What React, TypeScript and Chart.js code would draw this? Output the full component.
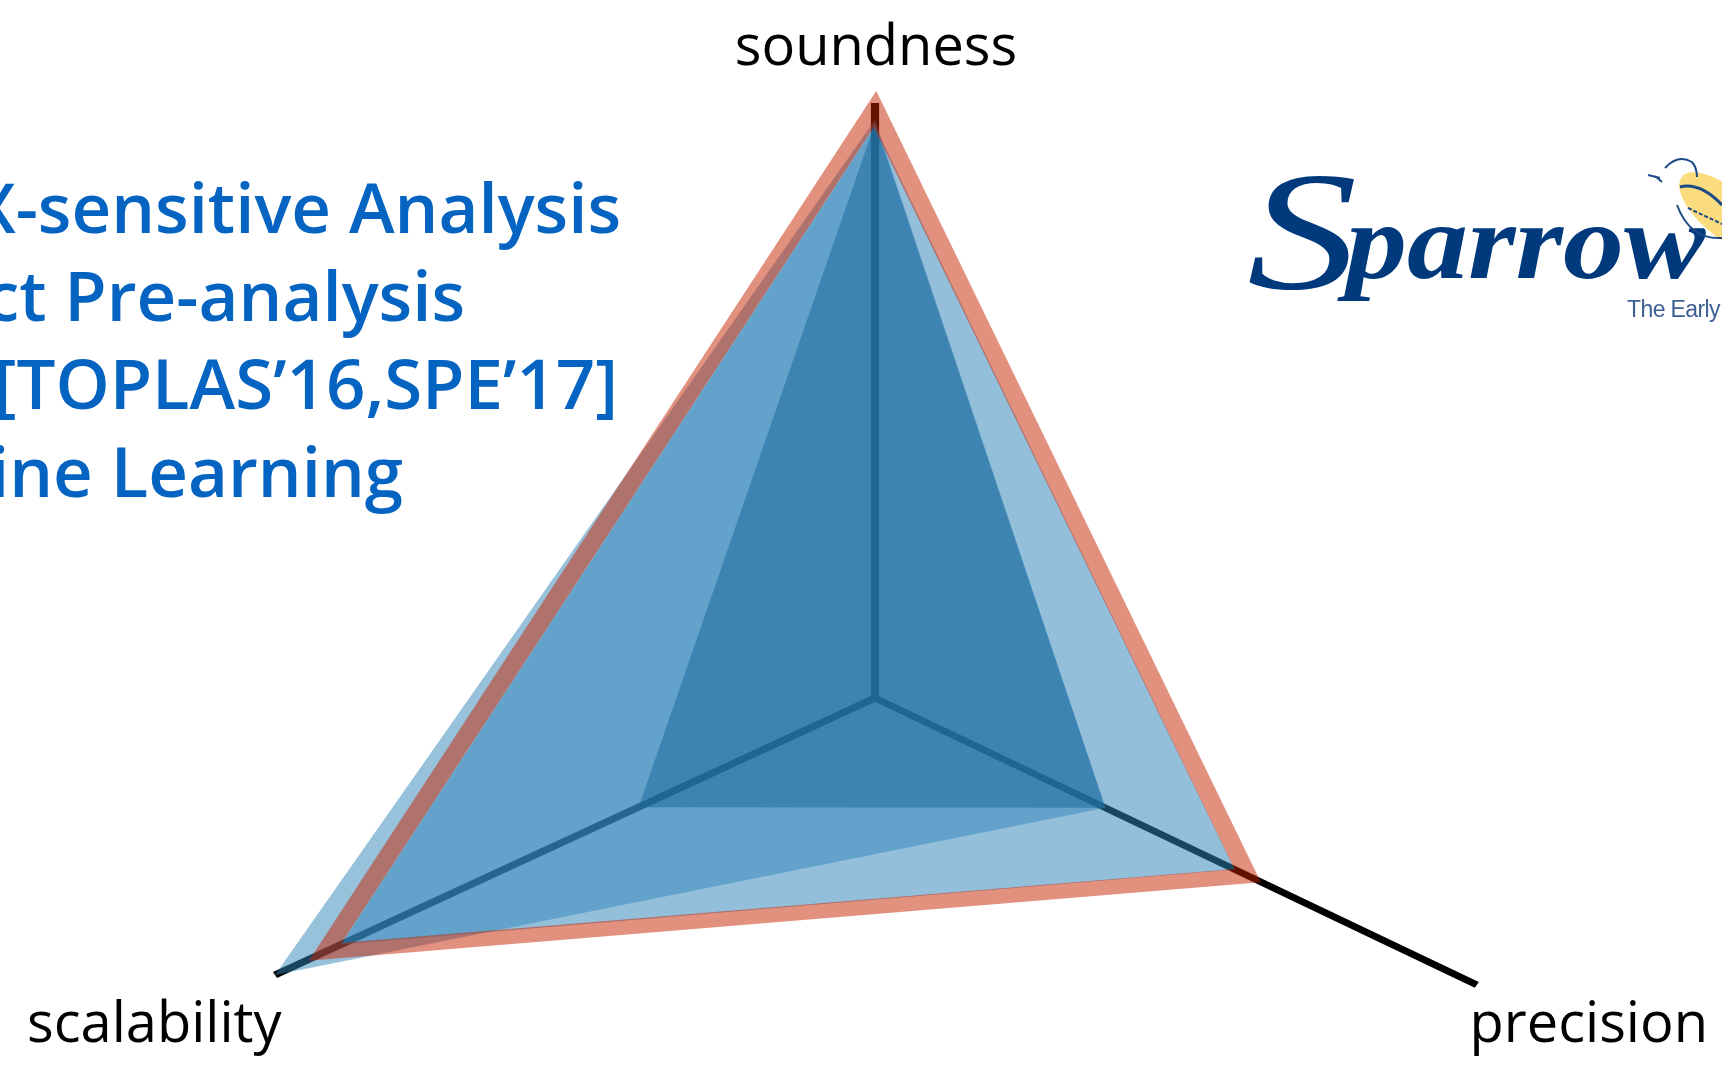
import React, { useEffect, useRef } from "react";
import { Chart, registerables } from "chart.js";

Chart.register(...registerables);

// Axis order follows the radar's clockwise order, starting at the top.
const axisLabels = ["soundness", "precision", "scalability"];

const redOutline = [104.6, 62.1, 91.6];
const blueWide = [101.6, 60, 89];
const blueLong = [102.7, 38.4, 100];
const blueCore = [102.1, 38.4, 39.4];

const axisSoundness = [105.7, 0, 0];
const axisPrecision = [0, 100.3, 0];
const axisScalability = [0, 0, 100];

const textLines = [
  "X-sensitive Analysis",
  "Compact Pre-analysis",
  "Sound [TOPLAS’16,SPE’17]",
  "Machine Learning",
];

const axisDataset = (data: number[]) => ({
  data,
  borderColor: "#000",
  borderWidth: 7,
  borderJoinStyle: "bevel",
  fill: false,
  pointRadius: 0,
  clip: false,
  order: 10,
});

const areaDataset = (data: number[], paint: string, order: number) => ({
  data,
  backgroundColor: paint,
  borderWidth: 0,
  borderColor: "transparent",
  fill: "origin",
  pointRadius: 0,
  clip: false,
  order,
});

const frame = {
  id: "frame",
  beforeDatasetsDraw(chart: any) {
    const r = chart.scales.r;
    const unit = r.getDistanceFromCenterForValue(100);
    const ctx = chart.ctx;
    ctx.save();
    ctx.translate(875, 698);
    ctx.transform(600 / (0.866 * unit), 4.5 / (0.866 * unit), 0, 563 / unit, 0, 0);
    ctx.translate(-r.xCenter, -r.yCenter);
  },
  afterDatasetsDraw(chart: any) {
    chart.ctx.restore();
  },
  afterDraw(chart: any) {
    const ctx = chart.ctx;
    const spots = [
      { x: 876, y: 65, align: "center" },
      { x: 1708, y: 1042, align: "right" },
      { x: 27, y: 1042, align: "left" },
    ];
    ctx.save();
    ctx.fillStyle = "#000";
    ctx.font = '56px "Open Sans"';
    chart.data.labels.forEach((label: string, i: number) => {
      ctx.textAlign = spots[i].align;
      ctx.fillText(label, spots[i].x, spots[i].y);
    });
    ctx.restore();
  },
};

const lineEnds = [
  { right: 621, base: 233 },
  { right: 465, base: 321 },
  { right: 618, base: 409 },
  { right: 403, base: 497 },
];

export default function App() {
  const ref = useRef<HTMLCanvasElement>(null);
  useEffect(() => {
    const chart = new Chart(ref.current as HTMLCanvasElement, {
      type: "radar",
      data: {
        labels: axisLabels,
        datasets: [
          axisDataset(axisSoundness),
          axisDataset(axisPrecision),
          axisDataset(axisScalability),
          areaDataset(blueWide, "rgba(50,133,185,0.52)", 5),
          areaDataset(blueLong, "rgba(50,133,185,0.5)", 4),
          areaDataset(blueCore, "rgba(26,104,157,0.5)", 3),
          {
            data: redOutline,
            borderColor: "rgba(200,36,0,0.5)",
            borderWidth: 16,
            borderJoinStyle: "miter",
            fill: false,
            pointRadius: 0,
            clip: false,
            order: 1,
          },
        ] as any,
      },
      options: {
        responsive: false,
        animation: false,
        layout: { padding: 0 },
        plugins: { legend: { display: false }, tooltip: { enabled: false } },
        elements: { line: { tension: 0 } },
        scales: {
          r: {
            min: 0,
            max: 110,
            grid: { display: false },
            angleLines: { display: false },
            ticks: { display: false },
            pointLabels: { display: false },
          },
        },
      },
      plugins: [frame],
    });
    return () => chart.destroy();
  }, []);

  return (
    <div
      style={{
        position: "fixed",
        left: 0,
        top: 0,
        width: 1722,
        height: 1066,
        overflow: "hidden",
        background: "#fff",
      }}
    >
      <canvas ref={ref} width={1722} height={1300} style={{ position: "absolute", left: 0, top: 0 }} />
      {textLines.map((line, i) => (
        <div
          key={line}
          style={{
            position: "absolute",
            right: 1722 - lineEnds[i].right,
            top: lineEnds[i].base - 72,
            whiteSpace: "nowrap",
            font: '600 69px/90px "Open Sans"',
            color: "#0563c1",
          }}
        >
          {line}
        </div>
      ))}
      <div
        style={{
          position: "absolute",
          left: 1247,
          top: 146,
          whiteSpace: "nowrap",
          color: "#003a7d",
          transform: "scaleX(1.3)",
          transformOrigin: "left",
          font: 'italic 170px/170px "Liberation Serif"',
        }}
      >
        S
      </div>
      <div
        style={{
          position: "absolute",
          left: 1346,
          top: 188,
          whiteSpace: "nowrap",
          color: "#003a7d",
          transform: "scaleX(1.13)",
          transformOrigin: "left",
          font: 'italic bold 108px/108px "Liberation Serif"',
        }}
      >
        parrow
      </div>
      <div
        style={{
          position: "absolute",
          left: 1627,
          top: 294,
          whiteSpace: "nowrap",
          color: "#3d5f94",
          letterSpacing: -0.6,
          font: '23px/30px "Liberation Sans"',
        }}
      >
        The Early Bird
      </div>
      <svg width={1722} height={1066} style={{ position: "absolute", left: 0, top: 0 }}>
        <ellipse cx={1724} cy={212} rx={55} ry={24} transform="rotate(40 1724 212)" fill="#fbdc7f" />
        <path d="M1665 168 Q1678 154 1692 162 Q1697 168 1697 177" fill="none" stroke="#1d4a86" strokeWidth={2} />
        <path d="M1648 175 L1660 178 M1655 176 L1662 182" fill="none" stroke="#1d4a86" strokeWidth={2} />
        <path d="M1680 187 Q1700 182 1722 205" fill="none" stroke="#1d4a86" strokeWidth={3} />
        <path d="M1677 205 Q1690 240 1722 238" fill="none" stroke="#1d4a86" strokeWidth={2} />
        <path d="M1688 208 L1722 224" fill="none" stroke="#1d4a86" strokeWidth={2} strokeDasharray="4 2" />
      </svg>
    </div>
  );
}
